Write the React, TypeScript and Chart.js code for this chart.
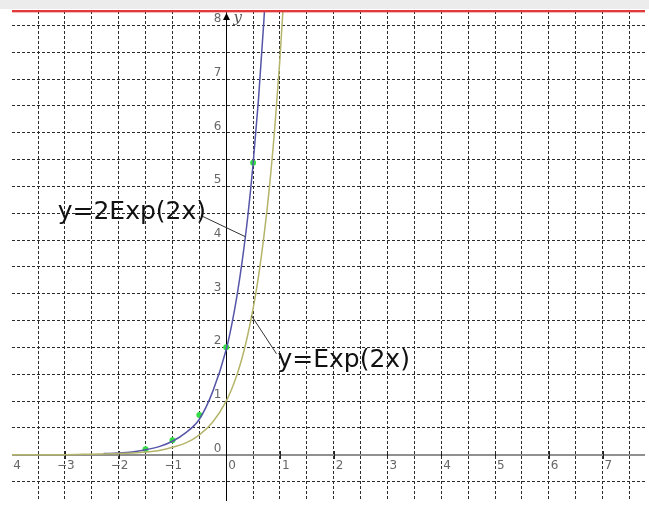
import { useEffect, useRef } from "react";
import { Chart, registerables } from "chart.js";

Chart.register(...registerables);

// Visible window of the plane
const X_MIN = -3.985;
const X_MAX = 7.79;
const Y_MIN = -0.863;
const Y_MAX = 8.268;

// Axis tick labels
const xTickLabels = [-4, -3, -2, -1, 0, 1, 2, 3, 4, 5, 6, 7];
const yTickLabels = [0, 1, 2, 3, 4, 5, 6, 7, 8];

// y = 2Exp(2x)
const twoExpX = [-2.28, -2.0, -1.75, -1.5, -1.25, -1.0, -0.75, -0.5, -0.25, 0.0, 0.1, 0.2, 0.3, 0.4, 0.5, 0.6, 0.7, 0.75];
const twoExpY = [0.02, 0.03, 0.05, 0.09, 0.15, 0.25, 0.41, 0.66, 1.18, 1.96, 2.41, 2.96, 3.63, 4.43, 5.42, 6.62, 8.08, 8.95];

// y = Exp(2x)
const expX = [-4.2, -3.0, -2.5, -2.0, -1.5, -1.25, -1.0, -0.75, -0.5, -0.25, 0.0, 0.1, 0.2, 0.3, 0.4, 0.5, 0.6, 0.7, 0.8, 0.9, 1.0, 1.1];
const expY = [0.0, 0.0, 0.01, 0.02, 0.05, 0.08, 0.14, 0.22, 0.37, 0.61, 1.0, 1.22, 1.49, 1.82, 2.23, 2.72, 3.32, 4.06, 4.95, 6.05, 7.39, 9.03];

// Marked points on y = 2Exp(2x)
const markX = [-1.5, -1.0, -0.5, 0.0, 0.5];
const markY = [0.1, 0.27, 0.74, 2.0, 5.44];

// Curve captions and their leader lines (data coordinates)
const captions = [
  { text: "y=2Exp(2x)", x: -3.135, y: 4.4, fromX: -0.437, fromY: 4.44, toX: 0.36, toY: 4.06 },
  { text: "y=Exp(2x)", x: 0.954, y: 1.63, fromX: 0.935, fromY: 1.88, toX: 0.47, toY: 2.59 },
];

const TICK_FONT = "12px 'DejaVu Sans', Verdana, sans-serif";
const TICK_COLOR = "#666";

const axesPlugin = {
  id: "planeAxes",
  beforeDatasetsDraw(chart: any) {
    const { ctx, chartArea, scales } = chart;
    const xs = scales.x;
    const ys = scales.y;
    const x0 = Math.round(xs.getPixelForValue(0)) + 0.5;
    const y0 = Math.round(ys.getPixelForValue(0));
    ctx.save();
    // horizontal axis
    ctx.strokeStyle = "#909090";
    ctx.lineWidth = 2;
    ctx.beginPath();
    ctx.moveTo(chartArea.left, y0);
    ctx.lineTo(chartArea.right, y0);
    ctx.stroke();
    // integer tick marks
    ctx.strokeStyle = "#222";
    ctx.lineWidth = 1;
    xTickLabels.forEach((v) => {
      const px = Math.round(xs.getPixelForValue(v)) + 0.5;
      if (px < chartArea.left || px > chartArea.right) return;
      ctx.beginPath();
      ctx.moveTo(px, y0 - 4);
      ctx.lineTo(px, y0 + 4);
      ctx.stroke();
    });
    // vertical axis
    ctx.strokeStyle = "#000";
    ctx.lineWidth = 1;
    ctx.beginPath();
    ctx.moveTo(x0, chartArea.top + 4);
    ctx.lineTo(x0, chartArea.bottom);
    ctx.stroke();
    ctx.restore();
  },
  afterDraw(chart: any) {
    const { ctx, chartArea, scales } = chart;
    const xs = scales.x;
    const ys = scales.y;
    const x0 = Math.round(xs.getPixelForValue(0)) + 0.5;
    const y0 = ys.getPixelForValue(0);

    ctx.save();
    ctx.beginPath();
    ctx.rect(chartArea.left, chartArea.top, chartArea.right - chartArea.left, chartArea.bottom - chartArea.top);
    ctx.clip();

    // x tick labels: digits start just right of the tick, minus hangs left
    ctx.font = TICK_FONT;
    ctx.fillStyle = TICK_COLOR;
    ctx.textBaseline = "top";
    ctx.textAlign = "left";
    const minusW = ctx.measureText("\u2212").width;
    xTickLabels.forEach((v) => {
      const px = xs.getPixelForValue(v);
      const s = v < 0 ? "\u2212" + Math.abs(v) : String(v);
      const start = px + 2 - (v < 0 ? minusW : 0);
      ctx.fillText(s, start, y0 + 5);
    });

    // y tick labels
    ctx.textAlign = "right";
    ctx.textBaseline = "alphabetic";
    yTickLabels.forEach((v) => {
      const py = ys.getPixelForValue(v);
      ctx.fillText(String(v), x0 - 5, py - 3);
    });

    // arrow head and axis name
    ctx.fillStyle = "#000";
    ctx.beginPath();
    ctx.moveTo(x0, chartArea.top + 2);
    ctx.lineTo(x0 - 3.5, chartArea.top + 9);
    ctx.lineTo(x0 + 3.5, chartArea.top + 9);
    ctx.closePath();
    ctx.fill();
    ctx.font = "italic 15px 'DejaVu Serif', 'Liberation Serif', serif";
    ctx.fillStyle = "#555";
    ctx.textAlign = "left";
    ctx.fillText("y", x0 + 7, chartArea.top + 11);

    // captions with leader lines
    captions.forEach((c) => {
      ctx.strokeStyle = "#333";
      ctx.lineWidth = 1;
      ctx.beginPath();
      ctx.moveTo(xs.getPixelForValue(c.fromX), ys.getPixelForValue(c.fromY));
      ctx.lineTo(xs.getPixelForValue(c.toX), ys.getPixelForValue(c.toY));
      ctx.stroke();
      ctx.font = "25px 'DejaVu Sans', Verdana, sans-serif";
      ctx.fillStyle = "#111";
      ctx.textAlign = "left";
      ctx.textBaseline = "alphabetic";
      ctx.fillText(c.text, xs.getPixelForValue(c.x), ys.getPixelForValue(c.y));
    });
    ctx.restore();

    // top band and red frame line
    ctx.save();
    ctx.fillStyle = "#ececec";
    ctx.fillRect(0, 0, chart.width, chartArea.top - 2);
    ctx.fillStyle = "#e03a3a";
    ctx.fillRect(chartArea.left, chartArea.top - 1, chartArea.right - chartArea.left, 2);
    ctx.fillStyle = "rgba(224,58,58,0.35)";
    ctx.fillRect(chartArea.left, chartArea.top + 1, chartArea.right - chartArea.left, 1);
    ctx.restore();
  },
};

export default function App() {
  const canvasRef = useRef<HTMLCanvasElement | null>(null);

  useEffect(() => {
    const canvas = canvasRef.current;
    if (!canvas) return;
    const toPoints = (xs: number[], ys: number[]) => xs.map((x, i) => ({ x, y: ys[i] }));

    const gridOpts = {
      color: "#2a2a2a",
      lineWidth: 1,
      drawTicks: false,
    };

    const chart = new Chart(canvas, {
      type: "scatter",
      data: {
        datasets: [
          {
            label: "y=Exp(2x)",
            data: toPoints(expX, expY),
            showLine: true,
            borderColor: "#b4b46a",
            borderWidth: 1.5,
            pointRadius: 0,
            cubicInterpolationMode: "monotone",
          },
          {
            label: "y=2Exp(2x)",
            data: toPoints(twoExpX, twoExpY),
            showLine: true,
            borderColor: "#5656a8",
            borderWidth: 1.5,
            pointRadius: 0,
            cubicInterpolationMode: "monotone",
          },
          {
            label: "points",
            data: toPoints(markX, markY),
            showLine: false,
            pointRadius: 3,
            pointBorderWidth: 0,
            pointBackgroundColor: "#33dd44",
            pointBorderColor: "#33dd44",
          },
        ],
      },
      options: {
        responsive: false,
        animation: false,
        devicePixelRatio: 1,
        layout: { padding: { left: 12, top: 11, right: 0, bottom: 0 } },
        plugins: {
          legend: { display: false },
          tooltip: { enabled: false },
          title: { display: false },
        },
        events: [],
        scales: {
          x: {
            type: "linear",
            min: X_MIN,
            max: X_MAX,
            ticks: { display: false, stepSize: 0.5, includeBounds: false },
            grid: gridOpts,
            border: { display: false, dash: [3, 2] },
          },
          y: {
            type: "linear",
            min: Y_MIN,
            max: Y_MAX,
            ticks: { display: false, stepSize: 0.5, includeBounds: false },
            grid: gridOpts,
            border: { display: false, dash: [3, 2] },
          },
        },
      } as any,
      plugins: [axesPlugin],
    });

    return () => chart.destroy();
  }, []);

  return (
    <div style={{ position: "fixed", left: 0, top: 0, width: 649, height: 505, background: "#fff" }}>
      <canvas ref={canvasRef} width={649} height={505} style={{ display: "block" }} />
    </div>
  );
}
